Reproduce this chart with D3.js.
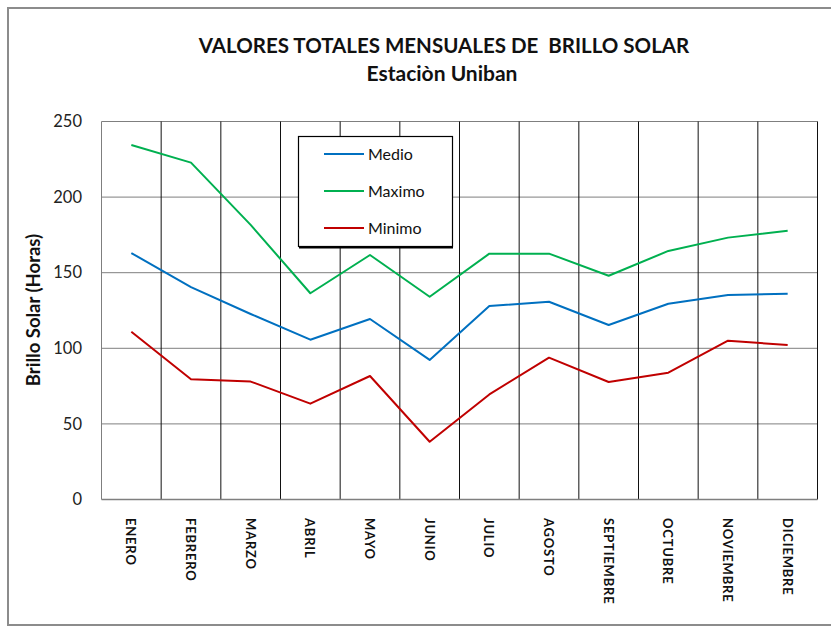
<!DOCTYPE html>
<html>
<head>
<meta charset="utf-8">
<script src="https://cdn.jsdelivr.net/npm/d3@7"></script>
<style>
  html, body { margin: 0; padding: 0; background: #fff; }
  svg { display: block; }
  text { font-family: Lato, "Open Sans", sans-serif; }
</style>
</head>
<body>
<script>
// Monthly sunshine totals (hours) for the Uniban station
const months = ["ENERO", "FEBRERO", "MARZO", "ABRIL", "MAYO", "JUNIO",
                "JULIO", "AGOSTO", "SEPTIEMBRE", "OCTUBRE", "NOVIEMBRE", "DICIEMBRE"];
const medio  = [163, 140.5, 122.7, 105.7, 119.4, 92.3, 128, 130.8, 115.4, 129.5, 135.3, 136];
const maximo = [234.5, 222.8, 181.6, 136.4, 161.7, 134.1, 162.6, 162.6, 148, 164.4, 173.2, 177.8];
const minimo = [111, 79.5, 78, 63.4, 81.7, 38.2, 69.5, 93.8, 77.7, 83.9, 105, 102.2];
const yTicks = [0, 50, 100, 150, 200, 250];

const series = [
  { name: "Medio",  values: medio,  color: "#0070C0" },
  { name: "Maximo", values: maximo, color: "#00B050" },
  { name: "Minimo", values: minimo, color: "#C00000" }
];

const W = 831, H = 627;
const plot = { left: 101.5, right: 817.5, top: 121.5, bottom: 499.5 };

const svg = d3.select("body").append("svg")
  .attr("width", W).attr("height", H);

// outer chart frame
svg.append("rect")
  .attr("x", 8).attr("y", 8).attr("width", 860).attr("height", 617)
  .attr("fill", "none").attr("stroke", "#8c8c8c").attr("stroke-width", 2);

const x = d3.scaleBand().domain(months).range([plot.left, plot.right]).padding(0);
const y = d3.scaleLinear().domain([0, 250]).range([plot.bottom, plot.top]);

// horizontal gridlines
svg.append("g").selectAll("line").data(yTicks.filter(d => d > 0)).join("line")
  .attr("x1", plot.left).attr("x2", plot.right)
  .attr("y1", d => y(d)).attr("y2", d => y(d))
  .attr("stroke", "#7f7f7f").attr("stroke-width", 1);

// vertical gridlines at category boundaries
svg.append("g").selectAll("line").data(months.slice(1)).join("line")
  .attr("x1", d => x(d)).attr("x2", d => x(d))
  .attr("y1", plot.top).attr("y2", plot.bottom)
  .attr("stroke", "#111").attr("stroke-width", 1);
svg.append("line")
  .attr("x1", plot.right).attr("x2", plot.right)
  .attr("y1", plot.top).attr("y2", plot.bottom)
  .attr("stroke", "#111").attr("stroke-width", 1);

// axes lines
svg.append("line")
  .attr("x1", plot.left).attr("x2", plot.left)
  .attr("y1", plot.top).attr("y2", plot.bottom)
  .attr("stroke", "#7f7f7f").attr("stroke-width", 1);
svg.append("line")
  .attr("x1", plot.left).attr("x2", plot.right)
  .attr("y1", plot.bottom).attr("y2", plot.bottom)
  .attr("stroke", "#7f7f7f").attr("stroke-width", 1.5);

// y tick labels
svg.append("g").selectAll("text").data(yTicks).join("text")
  .attr("x", 82).attr("y", d => y(d)).attr("dy", "0.35em")
  .attr("text-anchor", "end")
  .attr("font-size", 16.5).attr("fill", "#222")
  .text(d => d);

// x category labels, rotated to read downward
svg.append("g").selectAll("text").data(months).join("text")
  .attr("transform", d => `translate(${x(d) + x.bandwidth() / 2 - 5},518) rotate(90)`)
  .attr("text-anchor", "start")
  .attr("font-size", 13).attr("font-weight", "bold").attr("fill", "#111")
  .attr("letter-spacing", 0.8)
  .text(d => d);

// y axis title
svg.append("text")
  .attr("transform", "translate(40,310) rotate(-90)")
  .attr("text-anchor", "middle")
  .attr("font-size", 18.5).attr("font-weight", "bold").attr("fill", "#111")
  .text("Brillo Solar (Horas)");

// titles
svg.append("text")
  .attr("x", 444).attr("y", 53).attr("text-anchor", "middle")
  .attr("font-size", 20.5).attr("font-weight", "bold").attr("fill", "#111")
  .attr("xml:space", "preserve")
  .text("VALORES TOTALES MENSUALES DE  BRILLO SOLAR");
svg.append("text")
  .attr("x", 442).attr("y", 81).attr("text-anchor", "middle")
  .attr("font-size", 21).attr("font-weight", "bold").attr("fill", "#111")
  .text("Estaciòn Uniban");

// series lines
const line = d3.line()
  .x((d, i) => x(months[i]) + x.bandwidth() / 2)
  .y(d => y(d));

svg.append("g").selectAll("path").data(series).join("path")
  .attr("d", s => line(s.values))
  .attr("fill", "none")
  .attr("stroke", s => s.color)
  .attr("stroke-width", 2)
  .attr("stroke-linejoin", "round");

// legend
const lg = svg.append("g");
lg.append("rect")
  .attr("x", 298.5).attr("y", 136.5).attr("width", 154).attr("height", 110)
  .attr("fill", "#fff").attr("stroke", "#000").attr("stroke-width", 1.2);
lg.append("line")
  .attr("x1", 299).attr("x2", 453).attr("y1", 247.5).attr("y2", 247.5)
  .attr("stroke", "#000").attr("stroke-width", 2);
const items = lg.selectAll("g").data(series).join("g")
  .attr("transform", (d, i) => `translate(0,${154 + i * 37})`);
items.append("line")
  .attr("x1", 324).attr("x2", 364).attr("y1", 0).attr("y2", 0)
  .attr("stroke", d => d.color).attr("stroke-width", 2);
items.append("text")
  .attr("x", 368).attr("y", 0).attr("dy", "0.35em")
  .attr("font-size", 16).attr("fill", "#111")
  .text(d => d.name);
</script>
</body>
</html>
